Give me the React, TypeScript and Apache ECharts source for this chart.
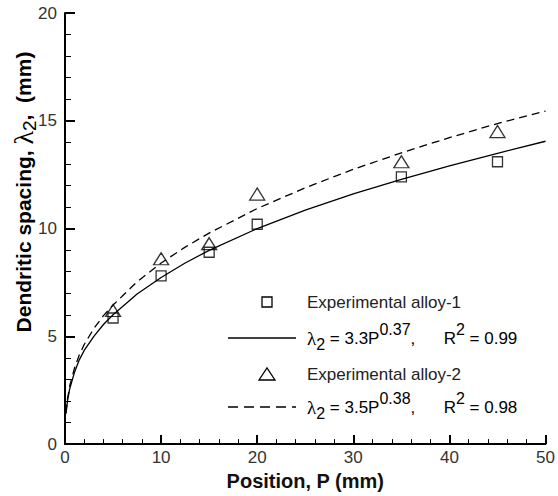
import { useEffect, useRef } from 'react';
import * as echarts from 'echarts';

const alloy1P = [5, 10, 15, 20, 35, 45];
const alloy1Spacing = [5.85, 7.8, 8.9, 10.2, 12.4, 13.1];
const alloy2P = [5, 10, 15, 20, 35, 45];
const alloy2Spacing = [6.2, 8.6, 9.3, 11.6, 13.1, 14.5];

// Fitted curves
const fitP = [0.1, 0.25, 0.5, 1, 1.5, 2, 3, 4, 5, 6, 7.5, 10, 12.5, 15, 20, 25, 30, 35, 40, 45, 50];
const fit1Spacing = [1.4, 1.98, 2.58, 3.35, 3.92, 4.35, 5.0, 5.55, 6.0, 6.38, 6.96, 7.73, 8.4, 8.99, 10.0, 10.85, 11.61, 12.28, 12.91, 13.49, 14.05];
const fit2Spacing = [1.46, 2.07, 2.72, 3.55, 4.15, 4.62, 5.36, 5.96, 6.45, 6.88, 7.53, 8.4, 9.14, 9.79, 10.93, 11.89, 12.75, 13.51, 14.22, 14.87, 15.45];

const legendNames = ['Experimental alloy-1', 'Experimental alloy-2'];

const zip = (xs: number[], ys: number[]) => xs.map((x, i) => [x, ys[i]]);

const SANS = '"Liberation Sans", Arial, sans-serif';
const SERIF = '"Liberation Serif", "DejaVu Serif", serif';

export default function App() {
  const ref = useRef<HTMLDivElement>(null);
  useEffect(() => {
    if (!ref.current) return;
    const chart = echarts.init(ref.current, undefined, { renderer: 'svg' });
    const formulaRich = {
      m: { fontSize: 17, fontFamily: SANS, color: '#222', lineHeight: 33 },
      l: { fontSize: 19, fontFamily: SERIF, color: '#222', lineHeight: 33 },
      sup: { fontSize: 16, fontFamily: SANS, color: '#222', height: 16, lineHeight: 16, verticalAlign: 'top' },
      sub: { fontSize: 16, fontFamily: SANS, color: '#222', height: 20, lineHeight: 20, verticalAlign: 'bottom' },
    };
    chart.setOption({
      animation: false,
      backgroundColor: '#fff',
      grid: { left: 65, right: 10, top: 13, bottom: 43, containLabel: false },
      xAxis: {
        type: 'value',
        min: 0,
        max: 50,
        interval: 10,
        name: 'Position, P (mm)',
        nameLocation: 'middle',
        nameGap: 26,
        nameTextStyle: { fontFamily: SANS, fontWeight: 'bold', fontSize: 20, color: '#111' },
        axisLine: { show: true, lineStyle: { color: '#000', width: 2 } },
        axisTick: { show: true, inside: true, length: 9, lineStyle: { color: '#000', width: 2 } },
        minorTick: { show: true, splitNumber: 5, length: 5, lineStyle: { color: '#000', width: 1 } },
        splitLine: { show: false },
        axisLabel: { fontFamily: SANS, fontSize: 17, color: '#333', margin: 5 },
      },
      yAxis: {
        type: 'value',
        min: 0,
        max: 20,
        interval: 5,
        axisLine: { show: true, lineStyle: { color: '#000', width: 2 } },
        axisTick: { show: true, inside: true, length: 10, lineStyle: { color: '#000', width: 2 } },
        minorTick: { show: true, splitNumber: 5, length: 6, lineStyle: { color: '#000', width: 1 } },
        splitLine: { show: false },
        axisLabel: { fontFamily: SANS, fontSize: 17, color: '#333', margin: 8 },
      },
      graphic: [
        {
          type: 'text',
          x: 23,
          y: 192,
          rotation: Math.PI / 2,
          style: {
            text: '{b|Dendritic spacing, }{l|λ}{s|2}{b|,  (mm)}',
            align: 'center',
            verticalAlign: 'middle',
            rich: {
              b: { fontFamily: SANS, fontWeight: 'bold', fontSize: 21, color: '#111', lineHeight: 32 },
              l: { fontFamily: SERIF, fontSize: 28, color: '#111', lineHeight: 32 },
              s: { fontFamily: SANS, fontSize: 19, color: '#111', height: 19, lineHeight: 19, verticalAlign: 'bottom' },
            },
          },
        },
        // legend row 1
        {
          type: 'rect',
          shape: { x: 262, y: 297, width: 10, height: 10 },
          style: { fill: 'none', stroke: '#000', lineWidth: 1.3 },
        },
        {
          type: 'text',
          x: 307,
          y: 302,
          style: { text: legendNames[0], fontFamily: SANS, fontSize: 17, fill: '#222', verticalAlign: 'middle' },
        },
        // legend row 2
        {
          type: 'line',
          shape: { x1: 228, y1: 338, x2: 296, y2: 338 },
          style: { stroke: '#000', lineWidth: 1.3 },
        },
        {
          type: 'text',
          x: 307,
          y: 338,
          style: {
            text: '{l|λ}{sub|2}{m| = 3.3P}{sup|0.37}{m|,      R}{sup|2}{m| = 0.99}',
            verticalAlign: 'middle',
            rich: formulaRich,
          },
        },
        // legend row 3
        {
          type: 'polygon',
          shape: { points: [[259, 380], [275, 380], [267, 368]] },
          style: { fill: 'none', stroke: '#000', lineWidth: 1.3 },
        },
        {
          type: 'text',
          x: 307,
          y: 374,
          style: { text: legendNames[1], fontFamily: SANS, fontSize: 17, fill: '#222', verticalAlign: 'middle' },
        },
        // legend row 4
        {
          type: 'line',
          shape: { x1: 228, y1: 407, x2: 296, y2: 407 },
          style: { stroke: '#000', lineWidth: 1.3, lineDash: [10, 6] },
        },
        {
          type: 'text',
          x: 307,
          y: 407,
          style: {
            text: '{l|λ}{sub|2}{m| = 3.5P}{sup|0.38}{m|,      R}{sup|2}{m| = 0.98}',
            verticalAlign: 'middle',
            rich: formulaRich,
          },
        },
      ],
      series: [
        {
          name: 'fit1',
          type: 'line',
          data: zip(fitP, fit1Spacing),
          showSymbol: false,
          smooth: false,
          lineStyle: { color: '#000', width: 1.3 },
          z: 2,
        },
        {
          name: 'fit2',
          type: 'line',
          data: zip(fitP, fit2Spacing),
          showSymbol: false,
          smooth: false,
          lineStyle: { color: '#000', width: 1.3, type: [8, 5] },
          z: 2,
        },
        {
          name: legendNames[0],
          type: 'scatter',
          data: zip(alloy1P, alloy1Spacing),
          symbol: 'rect',
          symbolSize: 10,
          itemStyle: { color: 'rgba(0,0,0,0)', borderColor: '#000', borderWidth: 1.3 },
          z: 3,
        },
        {
          name: legendNames[1],
          type: 'scatter',
          data: zip(alloy2P, alloy2Spacing),
          symbol: 'triangle',
          symbolSize: [15, 12],
          itemStyle: { color: 'rgba(0,0,0,0)', borderColor: '#000', borderWidth: 1.3 },
          z: 3,
        },
      ],
    });
    return () => chart.dispose();
  }, []);
  return (
    <div
      ref={ref}
      style={{ position: 'fixed', left: 0, top: 0, width: 558, height: 496, background: '#fff' }}
    />
  );
}
